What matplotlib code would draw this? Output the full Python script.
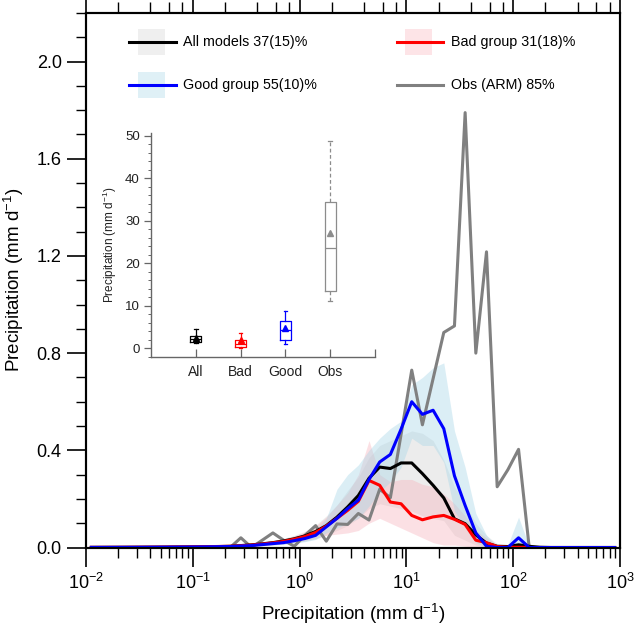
import numpy as np
import matplotlib
matplotlib.use('Agg')
import matplotlib.pyplot as plt
from matplotlib.ticker import LogLocator, MultipleLocator, NullFormatter, FixedLocator, FormatStrFormatter
from matplotlib.patches import Rectangle
from matplotlib.lines import Line2D

plt.rcParams['font.family'] = ['Liberation Sans', 'DejaVu Sans']
plt.rcParams['mathtext.fontset'] = 'custom'
plt.rcParams['mathtext.rm'] = 'Liberation Sans'
plt.rcParams['mathtext.it'] = 'Liberation Sans:italic'
plt.rcParams['mathtext.bf'] = 'Liberation Sans:bold'

# ---------------- data ----------------
# bin centres (log10 of precipitation, mm/d)
log_centres = np.arange(-1.95, 3.0, 0.1)

obs = [0, 0, 0, 0, 0, 0, 0, 0, 0, 0, 0, 0, 0,
       0, 0.04, 0, 0.03, 0.06, 0.03, 0.005, 0.05, 0.09, 0.026, 0.097,
       0.095, 0.14, 0.113, 0.24, 0.205, 0.465, 0.73, 0.505, 0.695, 0.885,
       0.912, 1.79, 0.80, 1.217, 0.25, 0.32, 0.404, 0,
       0, 0, 0, 0, 0, 0, 0, 0]

all_models = [0.0005, 0.0006, 0.0007, 0.0008, 0.001, 0.0012, 0.0014, 0.0016,
              0.002, 0.0023, 0.0027, 0.0032, 0.004,
              0.005, 0.008, 0.011, 0.015, 0.02, 0.027, 0.036, 0.048, 0.066,
              0.09, 0.125, 0.167, 0.214, 0.285, 0.331, 0.325, 0.348, 0.348,
              0.304, 0.256, 0.204, 0.118, 0.098, 0.052, 0.018, 0.005, 0.004,
              0.011, 0.005, 0.001, 0, 0, 0, 0, 0, 0, 0]

good = [0.0004, 0.0005, 0.0006, 0.0007, 0.0008, 0.001, 0.0012, 0.0014,
        0.0017, 0.002, 0.0024, 0.0029, 0.0035,
        0.004, 0.006, 0.008, 0.012, 0.016, 0.02, 0.028, 0.037, 0.05,
        0.085, 0.12, 0.16, 0.195, 0.28, 0.352, 0.383, 0.487, 0.60,
        0.548, 0.565, 0.489, 0.295, 0.173, 0.06, 0.005, 0, 0,
        0.04, 0, 0, 0, 0, 0, 0, 0, 0, 0]

bad = [0.0006, 0.0007, 0.0008, 0.0009, 0.0011, 0.0013, 0.0015, 0.0018,
       0.0022, 0.0026, 0.003, 0.0036, 0.0043,
       0.005, 0.007, 0.01, 0.014, 0.019, 0.025, 0.034, 0.045, 0.062,
       0.088, 0.12, 0.153, 0.19, 0.276, 0.256, 0.187, 0.18, 0.132,
       0.114, 0.126, 0.132, 0.116, 0.095, 0.03, 0.02, 0.004, 0.001,
       0.001, 0, 0, 0, 0, 0, 0, 0, 0, 0]

all_lo = [0.0003, 0.0004, 0.0004, 0.0005, 0.0006, 0.0007, 0.0008, 0.001,
          0.0012, 0.0014, 0.0016, 0.002, 0.0025,
          0.003, 0.004, 0.006, 0.008, 0.011, 0.015, 0.02, 0.026, 0.035,
          0.05, 0.07, 0.09, 0.12, 0.16, 0.18, 0.17, 0.16, 0.15,
          0.13, 0.12, 0.11, 0.05, 0.03, 0.01, 0, 0, 0,
          0, 0, 0, 0, 0, 0, 0, 0, 0, 0]
all_hi = [0.0008, 0.0009, 0.001, 0.0012, 0.0015, 0.0018, 0.002, 0.0024,
          0.003, 0.0034, 0.004, 0.0046, 0.0055,
          0.007, 0.011, 0.016, 0.021, 0.028, 0.037, 0.05, 0.067, 0.092,
          0.13, 0.175, 0.235, 0.29, 0.37, 0.42, 0.44, 0.46, 0.48,
          0.47, 0.44, 0.36, 0.25, 0.18, 0.10, 0.05, 0.015, 0.01,
          0.03, 0.012, 0.003, 0, 0, 0, 0, 0, 0, 0]

good_lo = [0.0002, 0.0003, 0.0003, 0.0004, 0.0005, 0.0006, 0.0007, 0.0008,
           0.001, 0.0012, 0.0014, 0.0017, 0.002,
           0.0025, 0.0035, 0.005, 0.007, 0.01, 0.013, 0.018, 0.024, 0.033,
           0.06, 0.08, 0.10, 0.12, 0.17, 0.23, 0.27, 0.33, 0.45,
           0.42, 0.42, 0.35, 0.15, 0.08, 0.02, 0, 0, 0,
           0, 0, 0, 0, 0, 0, 0, 0, 0, 0]
good_hi = [0.0006, 0.0007, 0.0008, 0.001, 0.0012, 0.0014, 0.0017, 0.002,
           0.0025, 0.003, 0.0035, 0.0042, 0.005,
           0.006, 0.009, 0.012, 0.017, 0.023, 0.03, 0.04, 0.052, 0.072,
           0.12, 0.24, 0.30, 0.34, 0.40, 0.45, 0.49, 0.52, 0.67,
           0.70, 0.74, 0.76, 0.48, 0.33, 0.14, 0.05, 0.005, 0.01,
           0.125, 0.005, 0, 0, 0, 0, 0, 0, 0, 0]

bad_lo = [0.0003, 0.0004, 0.0004, 0.0005, 0.0006, 0.0007, 0.0008, 0.001,
          0.0012, 0.0014, 0.0016, 0.002, 0.0024,
          0.003, 0.004, 0.006, 0.008, 0.011, 0.015, 0.02, 0.028, 0.038,
          0.05, 0.055, 0.06, 0.07, 0.10, 0.12, 0.10, 0.08, 0.06,
          0.04, 0.02, 0.01, 0.01, 0.005, 0, 0, 0, 0,
          0, 0, 0, 0, 0, 0, 0, 0, 0, 0]
bad_hi = [0.0009, 0.001, 0.0012, 0.0013, 0.0016, 0.0019, 0.0022, 0.0026,
          0.0032, 0.0038, 0.0045, 0.0053, 0.0063,
          0.0075, 0.01, 0.014, 0.02, 0.027, 0.036, 0.048, 0.063, 0.087,
          0.125, 0.175, 0.225, 0.30, 0.44, 0.30, 0.27, 0.28, 0.28,
          0.26, 0.25, 0.22, 0.18, 0.13, 0.07, 0.04, 0.01, 0.003,
          0.002, 0, 0, 0, 0, 0, 0, 0, 0, 0]

legend_labels = ['All models 37(15)%', 'Bad group 31(18)%',
                 'Good group 55(10)%', 'Obs (ARM) 85%']

box_labels = ['All', 'Bad', 'Good', 'Obs']
box_whislo = [1.2, 0.0, 1.0, 11.1]
box_q1 = [1.6, 0.3, 2.1, 13.6]
box_med = [2.2, 1.0, 4.3, 23.6]
box_q3 = [3.0, 2.1, 6.5, 34.3]
box_whishi = [4.5, 3.7, 8.9, 48.8]
box_mean = [2.5, 1.9, 4.7, 27.1]

# ---------------- styles ----------------
c_all, c_bad, c_good, c_obs = 'black', '#ff0000', '#0000ff', '#808080'
band_all, band_bad, band_good = '#d4d4d4', '#f7b0ba', '#a6d6e8'
leg_all, leg_bad, leg_good = '#efefef', '#fde4e7', '#dff0f6'

W, H = 634, 629
fig = plt.figure(figsize=(W / 100, H / 100), dpi=100)
L, R, T, B = 86, 620, 13, 547.5
ax = fig.add_axes([L / W, (H - B) / H, (R - L) / W, (B - T) / H])

x = 10 ** log_centres
ax.fill_between(x, all_lo, all_hi, color=band_all, alpha=0.42, lw=0, zorder=1)
ax.fill_between(x, bad_lo, bad_hi, color=band_bad, alpha=0.38, lw=0, zorder=1)
ax.fill_between(x, good_lo, good_hi, color=band_good, alpha=0.40, lw=0, zorder=1)

lw = 2.2
ax.plot(x, obs, color=c_obs, lw=lw, zorder=3)
ax.plot(x, all_models, color=c_all, lw=lw, zorder=4)
ax.plot(x, bad, color=c_bad, lw=lw, zorder=5)
ax.plot(x, good, color=c_good, lw=lw, zorder=6)

ax.set_xscale('log')
ax.set_xlim(1e-2, 1e3)
ax.set_ylim(0, 2.2)
ax.set_yticks(np.arange(0, 2.01, 0.4))
ax.yaxis.set_major_formatter(FormatStrFormatter('%.1f'))
ax.yaxis.set_minor_locator(MultipleLocator(0.1))
ax.xaxis.set_major_locator(LogLocator(base=10, numticks=10))
ax.xaxis.set_minor_locator(LogLocator(base=10, subs=np.arange(2, 10), numticks=20))
ax.xaxis.set_minor_formatter(NullFormatter())
ax.tick_params(axis='both', which='major', direction='out', length=14, width=1.2,
               labelsize=13, colors='black')
ax.tick_params(axis='both', which='minor', direction='out', length=7, width=1.0)
ax.tick_params(axis='x', which='major', pad=4)
ax.tick_params(axis='y', which='major', pad=3.5)
for s in ax.spines.values():
    s.set_linewidth(1.5)

ax.set_xlabel('Precipitation (mm d$^{-1}$)', fontsize=13.5)
ax.set_ylabel('Precipitation (mm d$^{-1}$)', fontsize=13.5)
ax.xaxis.set_label_coords(0.5, -0.102)
ax.yaxis.set_label_coords(-0.112, 0.5)

# top axis ticks
ax2 = ax.twiny()
ax2.set_xscale('log')
ax2.set_xlim(1e-2, 1e3)
ax2.xaxis.set_major_locator(LogLocator(base=10, numticks=10))
ax2.xaxis.set_minor_locator(FixedLocator([m * 10.0 ** e for e in range(-2, 3) for m in (2, 4, 6, 8)]))
ax2.xaxis.set_minor_formatter(NullFormatter())
ax2.tick_params(axis='x', which='major', direction='out', length=14, width=1.2, labeltop=False)
ax2.tick_params(axis='x', which='minor', direction='out', length=8, width=1.0)
for s in ax2.spines.values():
    s.set_linewidth(1.5)

# manual legend
def ax_xy(px, py):
    return (px - L) / (R - L), (B - py) / (B - T)

leg = [((151, 42), (129, 176), (183, 42), leg_all, c_all, legend_labels[0]),
       ((418.5, 42), (397, 443), (451, 42), leg_bad, c_bad, legend_labels[1]),
       ((151, 85), (129, 176), (183, 85), leg_good, c_good, legend_labels[2]),
       ((418.5, 85), (397, 443), (451, 85), None, c_obs, legend_labels[3])]
for (pc, (lx0, lx1), tp, pcol, lcol, lab) in leg:
    if pcol is not None:
        x0, y0 = ax_xy(pc[0] - 13.5, pc[1] + 13)
        x1, y1 = ax_xy(pc[0] + 13.5, pc[1] - 13)
        ax.add_patch(Rectangle((x0, y0), x1 - x0, y1 - y0, transform=ax.transAxes,
                               facecolor=pcol, edgecolor='none', zorder=7))
    a0 = ax_xy(lx0, pc[1]); a1 = ax_xy(lx1, pc[1])
    ax.add_line(Line2D([a0[0], a1[0]], [a0[1], a1[1]], transform=ax.transAxes,
                       color=lcol, lw=2.2, zorder=8))
    t = ax_xy(*tp)
    ax.text(t[0], t[1], lab, transform=ax.transAxes, fontsize=10.3,
            ha='left', va='center', zorder=8)

# ---------------- inset boxplot ----------------
iL, iR, iT, iB = 151, 375, 133, 357
axi = fig.add_axes([iL / W, (H - iB) / H, (iR - iL) / W, (iB - iT) / H])
axi.patch.set_alpha(0)
box_colors = [c_all, c_bad, c_good, '#8c8c8c']
for i in range(4):
    st = dict(label=box_labels[i], whislo=box_whislo[i], q1=box_q1[i], med=box_med[i],
              q3=box_q3[i], whishi=box_whishi[i], mean=box_mean[i], fliers=[])
    c = box_colors[i]
    if i == 3:
        wprops = dict(color=c, lw=0.9, ls=(0, (3, 2)))
    else:
        wprops = dict(color=c, lw=0.9)
    axi.bxp([st], positions=[i + 1], widths=0.25, showmeans=True, manage_ticks=False,
            capwidths=0.08,
            boxprops=dict(color=c, lw=0.9),
            whiskerprops=wprops,
            capprops=dict(color=c, lw=0.9),
            medianprops=dict(color=c, lw=0.9),
            meanprops=dict(marker='^', markerfacecolor=c, markeredgecolor=c, markersize=4.5))
axi.set_xlim(0, 5)
axi.set_ylim(-2, 50.6)
axi.set_xticks([1, 2, 3, 4, 5])
axi.set_xticklabels(box_labels + [''])
axi.set_yticks([0, 10, 20, 30, 40, 50])
axi.yaxis.set_minor_locator(MultipleLocator(2))
for side in ('top', 'right'):
    axi.spines[side].set_visible(False)
for side in ('left', 'bottom'):
    axi.spines[side].set_color('#666666')
    axi.spines[side].set_linewidth(1.0)
axi.tick_params(axis='x', which='major', direction='in', length=6, width=0.9,
                color='#666666', labelsize=10, labelcolor='#222222', pad=6)
axi.tick_params(axis='y', which='major', direction='out', length=5, width=0.9,
                color='#666666', labelsize=9.5, labelcolor='#222222', pad=3)
axi.tick_params(axis='y', which='minor', direction='out', length=2.5, width=0.7,
                color='#666666')
axi.set_ylabel('Precipitation (mm d$^{-1}$)', fontsize=8.5, color='#222222', labelpad=4)

fig.savefig('out.png', dpi=100)
